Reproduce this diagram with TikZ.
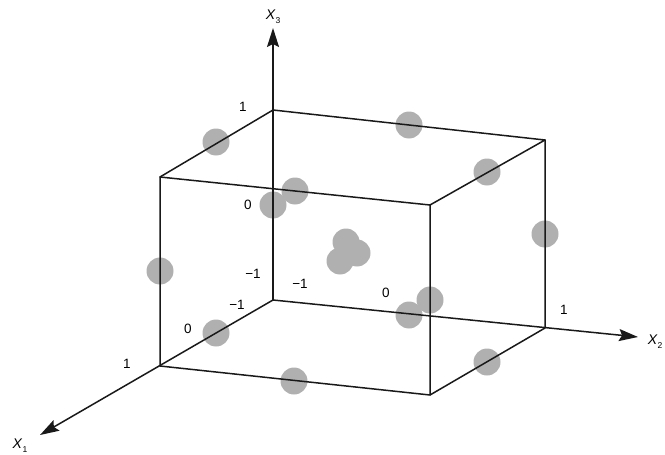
\documentclass[tikz,border=0pt]{standalone}
\usepackage{fontspec}
\setmainfont{Liberation Sans}
\usetikzlibrary{arrows.meta}
\begin{document}
\begin{tikzpicture}[x=1pt,y=-1pt,
  edge/.style={line width=1.5pt, black!90, line cap=round, line join=round},
  axis/.style={edge, -{Stealth[length=19pt,width=12pt,inset=3pt]}},
  dot/.style={circle, fill=black!31, minimum size=27pt, inner sep=0pt},
  tick/.style={font=\fontsize{13.5}{15}\selectfont, inner sep=0pt},
  axlab/.style={font=\fontsize{14}{16}\selectfont, inner sep=0pt}]
\useasboundingbox (0,0) rectangle (665,455);
% corners
\coordinate (O) at (273,300);
\coordinate (BTL) at (273,110);
\coordinate (BTR) at (545,140);
\coordinate (BBR) at (545,328);
\coordinate (FTL) at (160,177);
\coordinate (FBL) at (160,366);
\coordinate (FTR) at (430,205);
\coordinate (FBR) at (430,395);
\coordinate (T3) at (273,28);
\coordinate (T2) at (638,337);
\coordinate (T1) at (40,435);
% grey points
\node[dot] (p1) at (216,142) {};
\node[dot] (p2) at (409,125) {};
\node[dot] (p3) at (487,172) {};
\node[dot] (p4) at (295,191) {};
\node[dot] (p5) at (273,205) {};
\node[dot] (p6) at (160,271) {};
\node[dot] (p7) at (545,234) {};
\node[dot] (p8) at (216,333) {};
\node[dot] (p9) at (409,315) {};
\node[dot] (p10) at (430,300) {};
\node[dot] (p11) at (294,381) {};
\node[dot] (p12) at (487,362) {};
\node[dot] (p13) at (346,242) {};
\node[dot] (p14) at (357,253) {};
\node[dot] (p15) at (340,261) {};
% axes
\draw[axis] (O) -- (T3);
\draw[axis] (O) -- (T2);
\draw[axis] (O) -- (T1);
% box edges
\draw[edge] (FTL) -- (FTR) -- (FBR) -- (FBL) -- cycle;
\draw[edge] (FTL) -- (BTL) -- (BTR) -- (FTR);
\draw[edge] (BTR) -- (BBR) -- (FBR);
% tick labels
\node[tick] (l1) at (243,107) {1};
\node[tick] (l2) at (248,205) {0};
\node[tick] (l3) at (253,274) {−1};
\node[tick] (l4) at (300,284) {−1};
\node[tick] (l5) at (237,305) {−1};
\node[tick] (l6) at (386,293) {0};
\node[tick] (l7) at (188,329) {0};
\node[tick] (l8) at (127,364) {1};
\node[tick] (l9) at (564,310) {1};
% axis labels
\node[axlab] (x3) at (273,17) {\textit{X}\raisebox{-0.5ex}{\fontsize{8.5}{9}\selectfont 3}};
\node[axlab] (x2) at (655,342) {\textit{X}\raisebox{-0.5ex}{\fontsize{8.5}{9}\selectfont 2}};
\node[axlab] (x1) at (20,446) {\textit{X}\raisebox{-0.5ex}{\fontsize{8.5}{9}\selectfont 1}};
\end{tikzpicture}
\end{document}
